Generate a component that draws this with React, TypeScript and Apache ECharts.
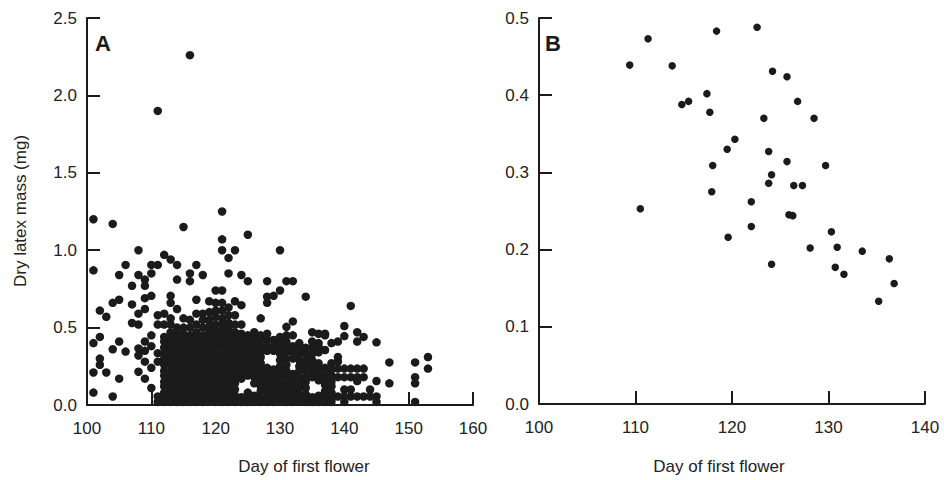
import React, { useEffect, useRef } from "react";
import * as echarts from "echarts";

// Panel A: day of first flower (x) and dry latex mass in mg (y), grouped by day
const panelADays: number[] = [
  101, 102, 103, 104, 105, 106, 107, 108, 109, 110,
  111, 112, 113, 114, 115, 116, 117, 118, 119, 120,
  121, 122, 123, 124, 125, 126, 127, 128, 129, 130,
  131, 132, 133, 134, 135, 136, 137, 138, 139, 140,
  141, 142, 143, 144, 145, 147, 151, 153,
];
const panelAMasses: number[][] = [
  [1.2, 0.87, 0.4, 0.21, 0.08],
  [0.61, 0.44, 0.3, 0.26],
  [0.57, 0.21],
  [1.17, 0.66, 0.36, 0.055],
  [0.84, 0.68, 0.41, 0.17],
  [0.905, 0.345],
  [0.77, 0.65, 0.53],
  [1.0, 0.84, 0.59, 0.52, 0.365, 0.32, 0.215],
  [0.81, 0.77, 0.69, 0.62, 0.41, 0.35, 0.28, 0.17],
  [0.905, 0.85, 0.705, 0.45, 0.38, 0.24, 0.11],
  [1.9, 0.905, 0.58, 0.52, 0.335, 0.28, 0.055, 0.02],
  [0.97, 0.59, 0.52, 0.44, 0.41, 0.37, 0.33, 0.3, 0.26, 0.22, 0.19, 0.15, 0.12, 0.08, 0.05, 0.02],
  [0.94, 0.705, 0.66, 0.56, 0.52, 0.47, 0.43, 0.4, 0.36, 0.33, 0.29, 0.26, 0.22, 0.18, 0.15, 0.11, 0.08, 0.04, 0.02],
  [0.905, 0.81, 0.62, 0.5, 0.46, 0.43, 0.39, 0.35, 0.32, 0.28, 0.24, 0.21, 0.17, 0.13, 0.1, 0.06, 0.02],
  [1.15, 0.56, 0.5, 0.46, 0.42, 0.38, 0.35, 0.31, 0.27, 0.24, 0.2, 0.16, 0.13, 0.09, 0.05, 0.02],
  [2.26, 0.85, 0.8, 0.55, 0.5, 0.45, 0.41, 0.37, 0.34, 0.3, 0.26, 0.23, 0.19, 0.15, 0.12, 0.08, 0.04, 0.02],
  [0.905, 0.68, 0.59, 0.52, 0.47, 0.43, 0.39, 0.36, 0.32, 0.28, 0.25, 0.21, 0.17, 0.14, 0.1, 0.06, 0.02],
  [0.84, 0.59, 0.55, 0.5, 0.45, 0.41, 0.38, 0.34, 0.3, 0.27, 0.23, 0.19, 0.16, 0.12, 0.08, 0.05, 0.02],
  [0.67, 0.6, 0.55, 0.51, 0.47, 0.43, 0.4, 0.36, 0.32, 0.29, 0.25, 0.21, 0.18, 0.14, 0.1, 0.07, 0.03],
  [0.74, 0.66, 0.61, 0.57, 0.52, 0.48, 0.44, 0.4, 0.37, 0.33, 0.29, 0.26, 0.22, 0.18, 0.15, 0.11, 0.07, 0.04, 0.02],
  [1.25, 1.07, 1.0, 0.74, 0.66, 0.61, 0.56, 0.52, 0.48, 0.44, 0.41, 0.37, 0.33, 0.3, 0.26, 0.22, 0.19, 0.15, 0.11, 0.08, 0.04, 0.02],
  [0.95, 0.85, 0.63, 0.58, 0.53, 0.49, 0.45, 0.42, 0.38, 0.34, 0.31, 0.27, 0.23, 0.2, 0.16, 0.12, 0.09, 0.05, 0.02],
  [1.0, 0.67, 0.58, 0.52, 0.47, 0.43, 0.39, 0.36, 0.32, 0.28, 0.25, 0.21, 0.17, 0.14, 0.1, 0.06, 0.02],
  [0.84, 0.645, 0.52, 0.46, 0.42, 0.38, 0.35, 0.31, 0.27, 0.24, 0.2, 0.17, 0.05, 0.02],
  [1.1, 0.8, 0.45, 0.41, 0.37, 0.34, 0.3, 0.26, 0.23, 0.19, 0.08, 0.04, 0.02],
  [0.47, 0.43, 0.4, 0.36, 0.32, 0.29, 0.25, 0.21, 0.18, 0.14, 0.06, 0.02],
  [0.56, 0.45, 0.42, 0.38, 0.34, 0.31, 0.27, 0.23, 0.2, 0.16, 0.12, 0.09, 0.05, 0.02],
  [0.8, 0.7, 0.66, 0.46, 0.42, 0.38, 0.35, 0.24, 0.2, 0.16, 0.13, 0.09, 0.05, 0.02],
  [0.705, 0.42, 0.38, 0.35, 0.23, 0.19, 0.16, 0.12, 0.08, 0.05, 0.02],
  [1.0, 0.74, 0.44, 0.4, 0.36, 0.33, 0.29, 0.25, 0.22, 0.18, 0.14, 0.11, 0.07, 0.03],
  [0.8, 0.505, 0.45, 0.41, 0.37, 0.34, 0.3, 0.26, 0.22, 0.19, 0.15, 0.11, 0.08, 0.04, 0.02],
  [0.8, 0.54, 0.45, 0.38, 0.34, 0.3, 0.2, 0.17, 0.13, 0.09, 0.06, 0.02],
  [0.4, 0.36, 0.33, 0.29, 0.25, 0.22, 0.18, 0.14, 0.11, 0.07, 0.03],
  [0.7, 0.37, 0.33, 0.29, 0.26, 0.22, 0.18, 0.15, 0.11, 0.07, 0.04, 0.02],
  [0.47, 0.41, 0.37, 0.33, 0.29, 0.26, 0.22, 0.18, 0.05, 0.02],
  [0.46, 0.4, 0.375, 0.34, 0.27, 0.23, 0.19, 0.16, 0.06, 0.02],
  [0.46, 0.45, 0.355, 0.24, 0.2, 0.17, 0.13, 0.09, 0.05, 0.02],
  [0.4, 0.27, 0.23, 0.19, 0.15, 0.12, 0.08, 0.04, 0.02],
  [0.41, 0.31, 0.28, 0.235, 0.18, 0.055],
  [0.51, 0.445, 0.235, 0.18, 0.1, 0.055, 0.02],
  [0.64, 0.235, 0.18, 0.1, 0.055],
  [0.47, 0.41, 0.235, 0.18, 0.155, 0.055],
  [0.44, 0.235, 0.18, 0.055],
  [0.1, 0.055],
  [0.405, 0.155, 0.055, 0.02],
  [0.275, 0.14],
  [0.275, 0.18, 0.14, 0.02],
  [0.31, 0.235],
];

// Panel B points: [day of first flower, dry latex mass (mg)]
const panelBDays: number[] = [
  109.4, 111.3, 113.8, 114.8, 115.5, 117.4, 117.7, 118.4, 118.0, 117.9,
  110.5, 120.3, 119.5, 119.6, 122.0, 122.0, 122.6, 123.3, 123.8, 124.1,
  123.8, 124.2, 125.7, 124.1, 125.7, 125.9, 126.3, 126.4, 127.3, 126.8,
  128.5, 128.1, 129.7, 130.3, 130.9, 130.7, 131.6, 133.5, 136.3, 136.8,
  135.2,
];
const panelBMasses: number[] = [
  0.439, 0.473, 0.438, 0.388, 0.392, 0.402, 0.378, 0.483, 0.309, 0.275,
  0.253, 0.343, 0.33, 0.216, 0.23, 0.262, 0.488, 0.37, 0.327, 0.297,
  0.286, 0.431, 0.424, 0.181, 0.314, 0.245, 0.244, 0.283, 0.283, 0.392,
  0.37, 0.202, 0.309, 0.223, 0.203, 0.177, 0.168, 0.198, 0.188, 0.156,
  0.133,
];

const xTicksA = { min: 100, max: 160, interval: 10 };
const yTicksA = { min: 0, max: 2.5, interval: 0.5 };
const xTicksB = { min: 100, max: 140, interval: 10 };
const yTicksB = { min: 0, max: 0.5, interval: 0.1 };

const xTitle = "Day of first flower";
const yTitle = "Dry latex mass (mg)";
const panelLabels = ["A", "B"];

const INK = "#1b1b1b";
const FONT = "'Liberation Sans', Arial, sans-serif";

export default function App() {
  const ref = useRef<HTMLDivElement>(null);

  useEffect(() => {
    if (!ref.current) return;
    const chart = echarts.init(ref.current, undefined, { renderer: "svg" });

    const dataA: [number, number][] = [];
    panelADays.forEach((d, i) => {
      panelAMasses[i].forEach((m) => dataA.push([d, m]));
    });
    const dataB: [number, number][] = panelBDays.map((d, i) => [d, panelBMasses[i]]);

    const axisCommon = {
      axisLine: { show: true, onZero: false, lineStyle: { color: INK, width: 2 } },
      axisTick: { show: true, inside: true, length: 13, lineStyle: { color: INK, width: 2 } },
      splitLine: { show: false },
      axisLabel: { color: "#222", fontSize: 17, fontFamily: FONT },
    };

    const grids = [
      { left: 87, top: 18, width: 386, height: 387 },
      { left: 539, top: 18, width: 386, height: 386 },
    ];

    chart.setOption({
      animation: false,
      backgroundColor: "#ffffff",
      grid: grids,
      xAxis: [
        {
          type: "value",
          gridIndex: 0,
          ...xTicksA,
          ...axisCommon,
          axisLabel: { ...axisCommon.axisLabel, margin: 15 },
        },
        {
          type: "value",
          gridIndex: 1,
          ...xTicksB,
          ...axisCommon,
          axisLabel: { ...axisCommon.axisLabel, margin: 15 },
        },
      ],
      yAxis: [
        {
          type: "value",
          gridIndex: 0,
          ...yTicksA,
          ...axisCommon,
          axisLabel: {
            ...axisCommon.axisLabel,
            margin: 10,
            formatter: (v: number) => v.toFixed(1),
          },
        },
        {
          type: "value",
          gridIndex: 1,
          ...yTicksB,
          ...axisCommon,
          axisLabel: {
            ...axisCommon.axisLabel,
            margin: 10,
            formatter: (v: number) => v.toFixed(1),
          },
        },
      ],
      series: [
        {
          type: "scatter",
          xAxisIndex: 0,
          yAxisIndex: 0,
          data: dataA,
          symbolSize: 8.5,
          itemStyle: { color: INK, opacity: 1 },
          clip: false,
        },
        {
          type: "scatter",
          xAxisIndex: 1,
          yAxisIndex: 1,
          data: dataB,
          symbolSize: 7.5,
          itemStyle: { color: INK, opacity: 1 },
          clip: false,
        },
      ],
      graphic: [
        {
          type: "text",
          left: 95,
          top: 32,
          style: { text: panelLabels[0], fontSize: 22, fontWeight: "bold", fill: INK, fontFamily: FONT },
        },
        {
          type: "text",
          left: 545,
          top: 32,
          style: { text: panelLabels[1], fontSize: 22, fontWeight: "bold", fill: INK, fontFamily: FONT },
        },
        {
          type: "text",
          x: 304,
          y: 466,
          style: { text: xTitle, fontSize: 17, fill: "#222", fontFamily: FONT, align: "center", verticalAlign: "middle" },
        },
        {
          type: "text",
          x: 719,
          y: 466,
          style: { text: xTitle, fontSize: 17, fill: "#222", fontFamily: FONT, align: "center", verticalAlign: "middle" },
        },
        {
          type: "text",
          x: 20,
          y: 211,
          rotation: Math.PI / 2,
          style: { text: yTitle, fontSize: 17, fill: "#222", fontFamily: FONT, align: "center", verticalAlign: "middle" },
        },
      ],
    });

    return () => chart.dispose();
  }, []);

  return <div ref={ref} style={{ width: 944, height: 480, position: "absolute", left: 0, top: 0 }} />;
}
